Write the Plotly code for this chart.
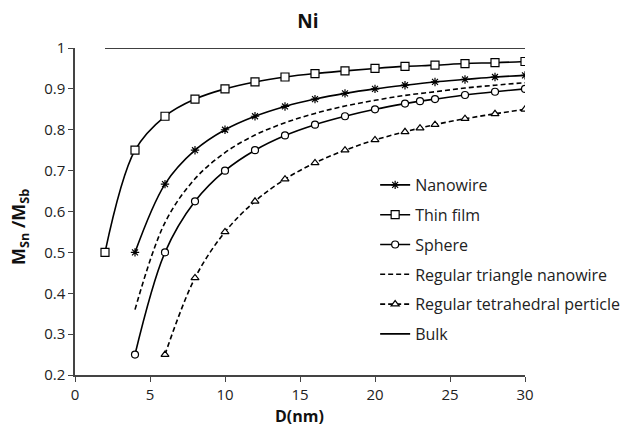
import plotly.graph_objects as go

# Data
film_x = [2, 4, 6, 8, 10, 12, 14, 16, 18, 20, 22, 24, 26, 28, 30]
film_y = [0.5, 0.75, 0.833, 0.875, 0.9, 0.917, 0.929, 0.9375, 0.944, 0.95, 0.955, 0.958, 0.962, 0.964, 0.967]

wire_x = [4, 6, 8, 10, 12, 14, 16, 18, 20, 22, 24, 26, 28, 30]
wire_y = [0.5, 0.667, 0.75, 0.8, 0.833, 0.857, 0.875, 0.889, 0.9, 0.909, 0.917, 0.923, 0.929, 0.933]

sphere_x = [4, 6, 8, 10, 12, 14, 16, 18, 20, 22, 23, 24, 26, 28, 30]
sphere_y = [0.25, 0.5, 0.625, 0.7, 0.75, 0.786, 0.8125, 0.833, 0.85, 0.864, 0.87, 0.875, 0.885, 0.893, 0.9]

tri_x = [4, 6, 8, 10, 12, 14, 16, 18, 20, 22, 24, 26, 28, 30]
tri_y = [0.36, 0.573, 0.68, 0.744, 0.787, 0.817, 0.84, 0.858, 0.872, 0.884, 0.893, 0.902, 0.909, 0.915]

tet_x = [6, 8, 10, 12, 14, 16, 18, 20, 22, 23, 24, 26, 28, 30]
tet_y = [0.25, 0.4375, 0.55, 0.625, 0.679, 0.719, 0.75, 0.775, 0.795, 0.804, 0.8125, 0.827, 0.839, 0.85]

bulk_x = [2, 30]
bulk_y = [1, 1]

x_ticks = [0, 5, 10, 15, 20, 25, 30]
y_ticks = [0.2, 0.3, 0.4, 0.5, 0.6, 0.7, 0.8, 0.9, 1]
y_ticklabels = ["0.2", "0.3", "0.4", "0.5", "0.6", "0.7", "0.8", "0.9", "1"]

FONT = "Open Sans"
BLACK = "#000000"
W, H = 628, 429
L, R, T, B = 75, 103, 48, 54

fig = go.Figure()

def add(name, x, y, dash, symbol, size, group, fill="white"):
    kw = {}
    if symbol:
        kw["marker"] = dict(symbol=symbol, size=size, color=fill,
                            line=dict(color=BLACK, width=1.2))
    fig.add_trace(go.Scatter(
        x=x, y=y, name=name, legendgroup=group,
        mode="lines+markers" if symbol else "lines",
        line=dict(color=BLACK, width=1.6, dash=dash, shape="spline", smoothing=1.0),
        **kw,
    ))

add("Nanowire", wire_x, wire_y, "solid", "asterisk-open", 7, "a", fill=BLACK)
add("Thin film", film_x, film_y, "solid", "square", 8, "b")
add("Sphere", sphere_x, sphere_y, "solid", "circle", 7, "c")
add("Regular triangle nanowire", tri_x, tri_y, "5px,3px", None, 0, "d")
add("Regular tetrahedral perticle", tet_x, tet_y, "5px,3px", "triangle-up", 7, "e")
add("Bulk", bulk_x, bulk_y, "solid", None, 0, "f")

def px_x(p):
    return p / W

def px_y(p):
    return 1 - p / H

fig.update_layout(
    width=W, height=H,
    margin=dict(l=L, r=R, t=T, b=B, autoexpand=False),
    paper_bgcolor="white", plot_bgcolor="white",
    font=dict(family=FONT, size=15, color="#222222"),
    title=dict(text="<b>Ni</b>", x=px_x(325), xanchor="center", xref="paper",
               y=px_y(21), yanchor="middle",
               font=dict(family=FONT, size=19, color="#111111")),
    showlegend=True,
    legend=dict(x=0.667, xanchor="left", y=(375 - 183 + 15) / 327, yanchor="top",
                bgcolor="rgba(0,0,0,0)", borderwidth=0, traceorder="grouped",
                tracegroupgap=6, font=dict(family=FONT, size=16, color="#222222")),
    xaxis=dict(range=[0, 30], tickvals=x_ticks, showgrid=False, zeroline=False,
               showline=True, linecolor="#444444", linewidth=1.5, ticks="outside", ticklen=5,
               tickcolor="#444444", tickfont=dict(size=15)),
    yaxis=dict(range=[0.2, 1], tickvals=y_ticks, ticktext=y_ticklabels,
               showgrid=False, zeroline=False,
               showline=True, linecolor="#444444", linewidth=1.5, ticks="outside", ticklen=5,
               tickcolor="#444444", tickfont=dict(size=15)),
    annotations=[
        dict(text="<b>D(nm)</b>", xref="paper", yref="paper",
             x=(299 - L) / (W - L - R), y=-(416 - (H - B)) / (H - T - B),
             xanchor="center", yanchor="middle", showarrow=False,
             font=dict(family=FONT, size=16, color="#111111")),
        dict(text="<b>M<sub>Sn</sub> /M<sub>Sb</sub></b>", xref="paper", yref="paper",
             x=-(L - 19) / (W - L - R), y=((H - B) - 227) / (H - T - B),
             xanchor="center", yanchor="middle", textangle=-90, showarrow=False,
             font=dict(family=FONT, size=18, color="#111111")),
    ],
)

fig.write_html("out.html")
